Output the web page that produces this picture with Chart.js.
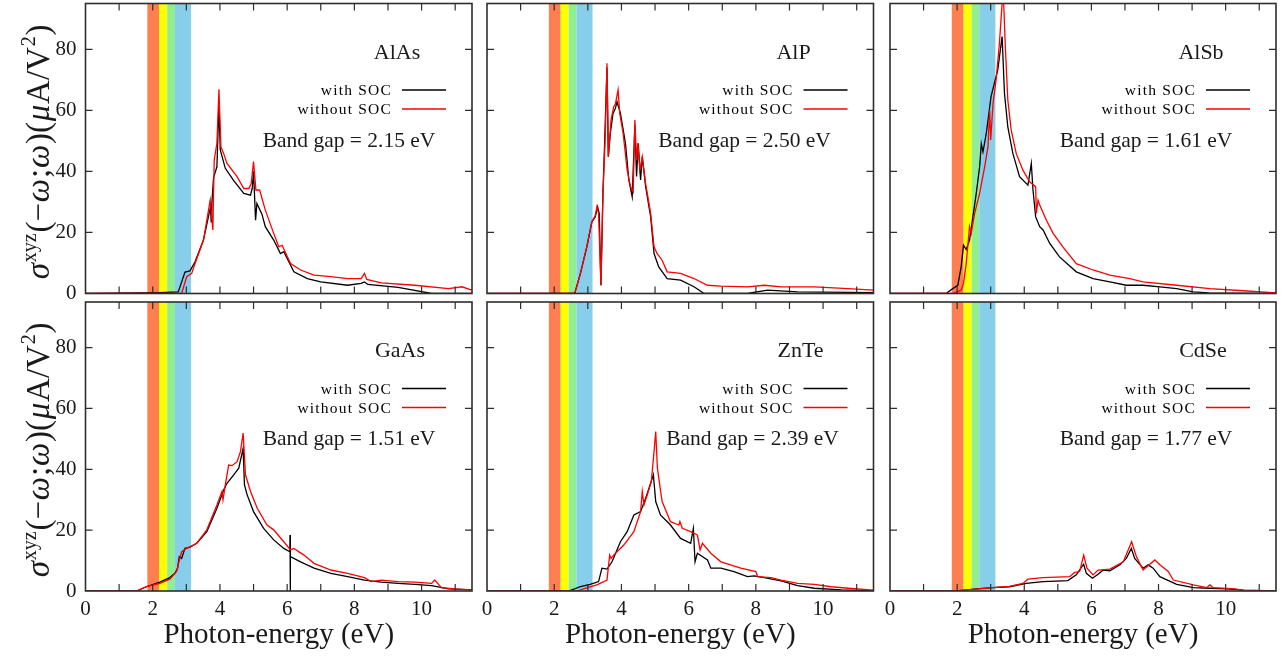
<!DOCTYPE html>
<html>
<head>
<meta charset="utf-8">
<title>SHG sigma xyz</title>
<script src="https://cdn.jsdelivr.net/npm/chart.js"></script>
<style>
  html, body { margin: 0; padding: 0; background: #fff; }
  #wrap { position: relative; width: 1283px; height: 656px; }
  #wrap canvas { position: absolute; left: 0; top: 0; }
</style>
</head>
<body>
<div id="wrap">
  <canvas id="c0" width="1283" height="656"></canvas>
  <canvas id="c1" width="1283" height="656"></canvas>
  <canvas id="c2" width="1283" height="656"></canvas>
  <canvas id="c3" width="1283" height="656"></canvas>
  <canvas id="c4" width="1283" height="656"></canvas>
  <canvas id="c5" width="1283" height="656"></canvas>
</div>
<script>
// materials, band gaps (eV)
var materials = ["AlAs", "AlP", "AlSb", "GaAs", "ZnTe", "CdSe"]
var bandGaps = ["2.15", "2.50", "1.61", "1.51", "2.39", "1.77"]

// visible light stripes (eV)
var bandEdges = [1.84, 2.19, 2.43, 2.66, 3.14]
var bandColors = ["#ff7f50", "#ffff00", "#90ee90", "#87ceeb"]

var xTicks = [0, 2, 4, 6, 8, 10]
var yTicks = [0, 20, 40, 60, 80]

// [photon energy, sigma]
var alasWith = [[0,0],[2.2,0.3],[2.76,0.5],[2.96,7],[3.11,7.4],[3.26,10.4],[3.51,17.5],[3.72,28.4],[3.74,23.5],[3.76,29.5],[3.81,38],[3.91,41.5],[3.97,62],[4.01,47],[4.16,41],[4.41,37],[4.71,32.8],[4.91,32.2],[4.96,34.4],[5.0,40],[5.06,24],[5.1,29.5],[5.25,26],[5.35,21.9],[5.6,17.5],[5.8,13.1],[5.9,13.7],[6.2,7.1],[6.6,4.9],[7.0,3.8],[7.8,2.7],[8.2,3.3],[8.3,3.8],[8.4,2.95],[9.3,2],[10.3,0],[11.5,0]]
var alasWithout = [[0,0],[2.86,0],[3.01,5.5],[3.16,6.6],[3.26,9.8],[3.51,17.5],[3.71,30.6],[3.79,20.8],[3.83,43.7],[3.91,49.2],[3.97,66.9],[4.03,48],[4.11,45.9],[4.21,42.6],[4.51,38.3],[4.71,34.4],[4.86,34.4],[4.93,36],[5.0,43.2],[5.07,33.9],[5.18,33.9],[5.35,27.3],[5.6,19.7],[5.75,15.3],[5.85,15.8],[6.1,9.8],[6.4,7.7],[6.8,6.0],[7.3,5.5],[7.8,4.9],[8.2,4.9],[8.3,6.6],[8.37,4.6],[8.8,3.5],[9.8,2.7],[10.8,1.6],[11.2,2.2],[11.5,1.1]]

var alpWith = [[0,0],[2.61,0],[2.78,6.6],[2.97,15.3],[3.12,23.5],[3.22,25.1],[3.29,28.4],[3.34,26.2],[3.39,2.7],[3.45,32.8],[3.49,46],[3.57,74],[3.61,44.8],[3.67,52.5],[3.75,59],[3.82,60.7],[3.87,62.8],[3.97,59],[4.12,49.2],[4.22,37.2],[4.32,31.7],[4.4,55.2],[4.45,38.3],[4.5,49.2],[4.57,37.2],[4.62,44.8],[4.72,35],[4.87,25.1],[4.97,13.1],[5.11,8.7],[5.36,4.9],[5.76,4.4],[6.16,2.2],[6.46,0],[7.75,0],[8.35,1.1],[9.24,0.5],[11.5,0.3]]
var alpWithout = [[0,0],[2.61,0],[2.78,6.6],[2.97,15.3],[3.12,23.5],[3.22,25.5],[3.27,28.4],[3.32,26.2],[3.39,2.7],[3.45,32.8],[3.52,52],[3.57,75.4],[3.61,44.8],[3.69,56.8],[3.77,61.2],[3.82,62],[3.9,66.7],[3.95,59],[4.05,52.5],[4.17,40.4],[4.27,35],[4.35,33.3],[4.4,56.8],[4.45,43.7],[4.49,49.2],[4.55,40.4],[4.62,44.8],[4.72,36],[4.87,26.2],[4.97,15.3],[5.06,13.1],[5.21,10.9],[5.36,7.1],[5.76,6.6],[6.16,4.9],[6.56,2.7],[6.96,2.4],[7.75,2.2],[8.25,2.7],[8.75,2.2],[9.74,2.2],[10.74,1.6],[11.5,1.1]]

var alsbWith = [[0,0],[1.67,0],[1.87,1.6],[2.02,2.7],[2.12,8.7],[2.19,15.8],[2.27,14.4],[2.37,17.5],[2.47,25.1],[2.57,32.8],[2.67,41.5],[2.72,49],[2.77,46.4],[2.87,52.5],[3.01,64.5],[3.11,68.9],[3.21,73.2],[3.34,84.2],[3.41,65.6],[3.51,54.6],[3.66,45.9],[3.86,38.3],[4.11,35.5],[4.21,42.6],[4.26,33.9],[4.34,25.1],[4.46,21.9],[4.56,20.8],[4.76,16.4],[5.05,12],[5.55,7.1],[6.05,4.9],[6.55,3.8],[7.04,2.7],[7.54,2.7],[8.04,2.2],[8.54,1.6],[9.04,0.5],[9.5,0.2],[11.5,0]]
var alsbWithout = [[0,0],[1.87,0],[2.12,1.1],[2.19,3.3],[2.27,9.8],[2.37,21.9],[2.42,19.7],[2.52,26.2],[2.67,32.8],[2.82,41.5],[2.92,48.1],[2.97,60.1],[3.0,50.3],[3.07,62.3],[3.16,69.9],[3.26,82],[3.37,100],[3.44,79.8],[3.51,63.4],[3.61,53.6],[3.76,45.9],[3.96,40.4],[4.16,36.6],[4.34,35],[4.36,26.2],[4.41,30.6],[4.46,29],[4.66,24],[4.86,19.7],[5.15,15.3],[5.55,9.8],[6.05,7.7],[6.55,6.0],[7.14,4.9],[7.54,3.8],[8.54,2.7],[9.53,1.6],[10.53,0.9],[11.5,0.2]]

var gaasWith = [[0,0],[1.52,0],[1.81,1.4],[2.21,2.9],[2.51,4.4],[2.66,5.8],[2.74,7.5],[2.79,11.3],[2.86,10.7],[2.96,14],[3.11,14.4],[3.31,15.7],[3.61,19.5],[3.91,27.2],[4.11,33.2],[4.21,35.4],[4.41,38.2],[4.56,40.4],[4.69,46.9],[4.73,34.9],[4.81,31.6],[5.0,26.1],[5.3,20.6],[5.6,16.8],[5.9,14],[6.08,12.9],[6.085,18.4],[6.09,0],[6.1,11.3],[6.4,9.6],[6.8,7.5],[7.3,5.8],[7.8,4.7],[8.3,3.6],[8.8,2.9],[9.3,2.5],[9.8,2.2],[10.3,1.8],[10.8,0.7],[11.5,0.4]]
var gaasWithout = [[0,0],[1.52,0],[1.81,1.4],[2.21,2.5],[2.51,3.9],[2.71,6.4],[2.78,9.6],[2.86,12.9],[3.01,14],[3.31,15.7],[3.61,20.1],[3.91,28.3],[4.06,32.7],[4.09,29.9],[4.16,34.9],[4.26,41.4],[4.36,41.2],[4.51,42.5],[4.61,45.8],[4.69,51.9],[4.76,38.2],[4.91,32.7],[5.11,27.2],[5.4,21.7],[5.6,20.1],[5.9,16.2],[6.1,13.5],[6.2,14],[6.5,11.8],[6.8,9.1],[7.3,6.9],[7.8,5.8],[8.3,4.4],[8.5,3.1],[8.8,3.6],[9.3,3.1],[9.8,2.9],[10.3,2.5],[10.39,3.6],[10.59,1.1],[10.99,0.7],[11.5,0.4]]

var znteWith = [[0,0],[2.43,0],[2.78,1.4],[3.07,2.2],[3.32,3.1],[3.42,7.5],[3.57,7.2],[3.72,9.6],[3.97,16.2],[4.17,19.5],[4.37,25],[4.57,26.1],[4.72,30.5],[4.82,33.8],[4.95,38.2],[5.02,29.4],[5.16,25],[5.46,21.7],[5.76,17.3],[6.06,15.7],[6.14,20.6],[6.19,9.6],[6.26,12.4],[6.56,10.2],[6.66,7.5],[6.96,7.5],[7.35,6.4],[7.75,4.7],[7.95,5.0],[8.25,4.4],[8.75,3.3],[9.24,1.8],[9.74,0.9],[10.54,0.4],[11.5,0.1]]
var znteWithout = [[0,0],[2.68,0],[2.98,1.1],[3.27,2],[3.57,3.6],[3.65,11.8],[3.69,10.7],[3.77,11.8],[4.07,15.1],[4.37,19.5],[4.57,26.1],[4.62,32.7],[4.67,28.3],[4.77,31.6],[4.89,36],[4.97,45.8],[5.02,52.4],[5.07,40.4],[5.21,29.4],[5.46,22.8],[5.71,21.7],[5.74,22.8],[5.81,20.6],[6.06,19.5],[6.26,18.4],[6.34,13.5],[6.41,15.7],[6.66,12.4],[6.96,9.6],[7.55,7.5],[8.0,6.4],[8.05,4.7],[8.45,4.4],[8.75,3.6],[9.24,2.5],[9.74,2.2],[10.24,1.4],[10.74,0.9],[11.5,0.3]]

var cdseWith = [[0,0],[1.97,0],[2.22,0.3],[2.57,0.7],[3.06,1.1],[3.56,1.4],[4.06,2.5],[4.56,3.1],[5.3,3.4],[5.55,5.3],[5.77,8.8],[5.85,5.8],[6.03,4.2],[6.2,5.5],[6.35,6.9],[6.55,6.6],[6.85,8.6],[7.04,10.7],[7.19,14],[7.29,10.7],[7.54,7.5],[7.69,8.6],[7.84,7.5],[8.04,4.7],[8.54,2.2],[9.04,1.1],[9.53,0.9],[10.03,0.7],[10.53,0.3],[11.5,0]]
var cdseWithout = [[0,0],[1.97,0],[2.22,0.3],[3.06,1.1],[3.56,1.5],[3.96,2.5],[4.11,3.9],[4.56,4.4],[5.35,4.7],[5.5,6.1],[5.65,6.4],[5.77,11.8],[5.87,7.5],[6.05,5.3],[6.2,6.9],[6.55,7.2],[6.95,9.6],[7.2,16.2],[7.34,11.3],[7.54,6.9],[7.89,10.2],[8.04,8.6],[8.29,6.4],[8.44,3.6],[9.04,2],[9.43,1.1],[9.53,2],[9.63,1.1],[10.28,0.7],[10.62,0],[11.5,0]]

var withSoc = [alasWith, alpWith, alsbWith, gaasWith, znteWith, cdseWith]
var withoutSoc = [alasWithout, alpWithout, alsbWithout, gaasWithout, znteWithout, cdseWithout]

// page geometry (plot areas in px)
var W = 1283, H = 656
var colLeft = [85.5, 487, 890]
var colRight = [472, 873.5, 1276]
var rowTop = [3.5, 302]
var rowBottom = [293.5, 591]
var nameDx = [75, 80, 75, 72, 73, 73]
var gapDx = [123, 129, 130, 123, 121, 130]

var serif = '"Liberation Serif", "Times New Roman", serif'
var ink = '#1a1a1a'

var bandsPlugin = {
    id: 'bands',
    beforeDatasetsDraw: function(chart) {
        var ctx = chart.ctx, a = chart.chartArea, x = chart.scales.x
        ctx.save()
        for (var i = 0; i < bandColors.length; i++) {
            var x0 = x.getPixelForValue(bandEdges[i])
            var x1 = x.getPixelForValue(bandEdges[i + 1])
            ctx.fillStyle = bandColors[i]
            ctx.fillRect(x0, a.top, x1 - x0, a.bottom - a.top)
        }
        ctx.restore()
    }
}

var framePlugin = {
    id: 'frame',
    afterDraw: function(chart) {
        var ctx = chart.ctx, a = chart.chartArea
        var xs = chart.scales.x, ys = chart.scales.y
        ctx.save()
        ctx.strokeStyle = '#2e2e2e'
        ctx.lineWidth = 1.2
        ctx.beginPath()
        xs.ticks.forEach(function(t) {
            var p = xs.getPixelForValue(t.value)
            if (p <= a.left + 1 || p >= a.right - 1) return
            ctx.moveTo(p, a.bottom); ctx.lineTo(p, a.bottom - 7)
            ctx.moveTo(p, a.top); ctx.lineTo(p, a.top + 7)
        })
        ys.ticks.forEach(function(t) {
            var p = ys.getPixelForValue(t.value)
            if (p >= a.bottom - 1 || p <= a.top + 1) return
            ctx.moveTo(a.left, p); ctx.lineTo(a.left + 7, p)
            ctx.moveTo(a.right, p); ctx.lineTo(a.right - 7, p)
        })
        ctx.stroke()
        ctx.lineWidth = 1.6
        ctx.strokeRect(a.left, a.top, a.right - a.left, a.bottom - a.top)
        ctx.restore()
    }
}

// panel name, legend, band gap and the y title
var textPlugin = {
    id: 'panelText',
    afterDatasetsDraw: function(chart, args, opts) {
        var ctx = chart.ctx, a = chart.chartArea
        ctx.save()
        ctx.fillStyle = ink
        ctx.textBaseline = 'alphabetic'

        ctx.font = '22px ' + serif
        ctx.textAlign = 'center'
        ctx.fillText(opts.name, a.right - opts.nameDx, a.top + 55)

        ctx.font = '21.5px ' + serif
        ctx.fillText('Band gap = ' + opts.gap + ' eV', a.right - opts.gapDx, a.top + 143)

        ctx.font = '15.5px ' + serif
        ctx.letterSpacing = '1.2px'
        ctx.textAlign = 'right'
        var rows = [['with SOC', '#000', 86.5], ['without SOC', '#ff0000', 105.5]]
        rows.forEach(function(r) {
            ctx.fillStyle = '#000'
            ctx.fillText(r[0], a.right - 80, a.top + r[2] + 5)
            ctx.strokeStyle = r[1]
            ctx.lineWidth = 1.4
            ctx.beginPath()
            ctx.moveTo(a.right - 70, a.top + r[2])
            ctx.lineTo(a.right - 26, a.top + r[2])
            ctx.stroke()
        })
        ctx.letterSpacing = '0px'

        if (opts.yTitle) drawYTitle(ctx, 38, (a.top + a.bottom) / 2 + 3)
        ctx.restore()
    }
}

function drawYTitle(ctx, cx, cy) {
    var big = 33, small = 20
    var parts = [
        ['σ', 'italic ', big, 0],
        ['xyz', '', small, -13],
        ['(−', '', big, 0],
        ['ω', 'italic ', big, 0],
        [';', '', big, 0],
        ['ω', 'italic ', big, 0],
        [')(', '', big, 0],
        ['μ', 'italic ', big, 0],
        ['A/V', '', big, 0],
        ['2', '', small, -14],
        [')', '', big, 0]
    ]
    var total = 0
    parts.forEach(function(p) {
        ctx.font = p[1] + p[2] + 'px ' + serif
        p.push(ctx.measureText(p[0]).width + 0.8)
        total += p[4]
    })
    ctx.save()
    ctx.translate(cx, cy)
    ctx.rotate(-Math.PI / 2)
    ctx.textAlign = 'left'
    ctx.textBaseline = 'alphabetic'
    ctx.fillStyle = ink
    var x = -total / 2
    parts.forEach(function(p) {
        ctx.font = p[1] + p[2] + 'px ' + serif
        ctx.fillText(p[0], x, 11 + p[3])
        x += p[4]
    })
    ctx.restore()
}

function toPoints(list) {
    return list.map(function(d) { return { x: d[0], y: d[1] } })
}

function buildPanel(i) {
    var row = Math.floor(i / 3), col = i % 3
    var bottomRow = row === 1, leftCol = col === 0

    new Chart('c' + i, {
        type: 'line',
        data: {
            datasets: [{
                label: 'with SOC',
                data: toPoints(withSoc[i]),
                borderColor: '#000000',
                borderWidth: 1.3,
                pointRadius: 0,
                tension: 0,
                order: 1
            }, {
                label: 'without SOC',
                data: toPoints(withoutSoc[i]),
                borderColor: '#ff0000',
                borderWidth: 1.3,
                pointRadius: 0,
                tension: 0,
                order: 0
            }]
        },
        options: {
            responsive: false,
            animation: false,
            events: [],
            layout: {
                padding: {
                    left: 0,
                    right: W - colRight[col],
                    top: rowTop[row],
                    bottom: bottomRow ? 0 : H - rowBottom[row]
                }
            },
            scales: {
                x: {
                    type: 'linear',
                    min: 0,
                    max: 11.5,
                    grid: { display: false, drawTicks: false },
                    border: { display: false },
                    ticks: {
                        display: bottomRow,
                        stepSize: 1,
                        includeBounds: false,
                        autoSkip: false,
                        maxRotation: 0,
                        padding: 6,
                        color: ink,
                        font: { family: serif, size: 21 },
                        callback: function(v) { return xTicks.indexOf(v) >= 0 ? String(v) : '' }
                    },
                    title: {
                        display: bottomRow,
                        text: 'Photon-energy (eV)',
                        color: ink,
                        font: { family: serif, size: 29 },
                        padding: { top: 0, bottom: 3 }
                    },
                    afterFit: function(s) {
                        s.height = bottomRow ? H - rowBottom[row] : 0
                        s.paddingLeft = 0
                        s.paddingRight = 0
                    }
                },
                y: {
                    min: 0,
                    max: 95,
                    grid: { display: false, drawTicks: false },
                    border: { display: false },
                    ticks: {
                        display: leftCol,
                        stepSize: 20,
                        includeBounds: false,
                        padding: 9,
                        color: ink,
                        font: { family: serif, size: 21 },
                        callback: function(v) { return yTicks.indexOf(v) >= 0 ? String(v) : '' }
                    },
                    afterFit: function(s) {
                        s.width = colLeft[col]
                        s.paddingTop = 0
                        s.paddingBottom = 0
                    }
                }
            },
            plugins: {
                legend: { display: false },
                tooltip: { enabled: false },
                panelText: {
                    name: materials[i],
                    gap: bandGaps[i],
                    nameDx: nameDx[i],
                    gapDx: gapDx[i],
                    yTitle: leftCol
                }
            }
        },
        plugins: [bandsPlugin, textPlugin, framePlugin]
    })
}

for (var i = 0; i < materials.length; i++) {
    buildPanel(i)
}
</script>
</body>
</html>
